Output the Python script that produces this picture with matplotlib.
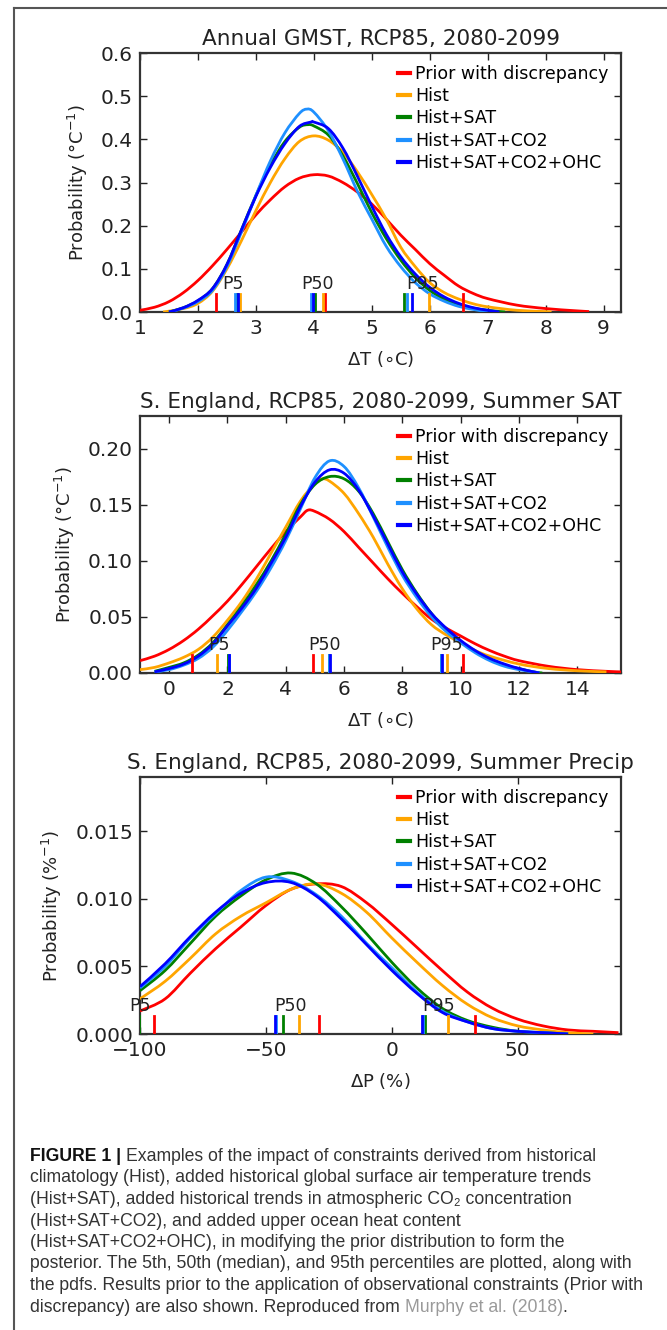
import matplotlib
matplotlib.use('Agg')
import matplotlib.pyplot as plt
from matplotlib.path import Path
from matplotlib.patches import PathPatch
from matplotlib.lines import Line2D

# ---- series names and colours (same order everywhere) ----
labels = ['Prior with discrepancy', 'Hist', 'Hist+SAT', 'Hist+SAT+CO2', 'Hist+SAT+CO2+OHC']
colors = ['#ff0000', '#ffa500', '#008000', '#1e90ff', '#0000ff']

# ---- Annual GMST pdfs ----
gmst_prior_x = [1.0, 1.25, 1.5, 1.75, 2.0, 2.25, 2.5, 2.75, 3.0, 3.25, 3.5, 3.75, 4.0, 4.25, 4.5, 4.75,
                5.0, 5.25, 5.5, 5.75, 6.0, 6.25, 6.5, 6.75, 7.0, 7.5, 8.0, 8.5, 8.75]
gmst_prior_y = [0.004, 0.011, 0.024, 0.045, 0.073, 0.107, 0.145, 0.185, 0.225, 0.26, 0.29, 0.31, 0.318,
                0.315, 0.30, 0.278, 0.25, 0.215, 0.178, 0.145, 0.112, 0.085, 0.06, 0.043, 0.031,
                0.016, 0.008, 0.003, 0.001]
gmst_hist_x = [1.4, 1.75, 2.0, 2.25, 2.5, 2.75, 3.0, 3.25, 3.5, 3.75, 4.0, 4.25, 4.5, 4.75, 5.0, 5.25,
               5.5, 5.75, 6.0, 6.25, 6.5, 6.75, 7.0, 7.5, 8.0, 8.1]
gmst_hist_y = [0.0, 0.008, 0.02, 0.048, 0.1, 0.165, 0.235, 0.3, 0.355, 0.395, 0.408, 0.398, 0.37,
               0.325, 0.272, 0.215, 0.15, 0.105, 0.068, 0.045, 0.03, 0.019, 0.012, 0.004, 0.001, 0.0]
gmst_sat_x = [1.5, 1.75, 2.0, 2.25, 2.5, 2.75, 3.0, 3.25, 3.5, 3.75, 3.9, 4.0, 4.25, 4.5, 4.75, 5.0,
              5.25, 5.5, 5.75, 6.0, 6.25, 6.5, 6.75, 7.0, 7.3]
gmst_sat_y = [0.0, 0.01, 0.026, 0.054, 0.11, 0.19, 0.27, 0.34, 0.395, 0.428, 0.434, 0.431, 0.41, 0.362,
              0.298, 0.23, 0.17, 0.12, 0.08, 0.05, 0.03, 0.017, 0.009, 0.004, 0.0]
gmst_co2_x = [1.5, 1.75, 2.0, 2.25, 2.5, 2.75, 3.0, 3.25, 3.5, 3.75, 3.88, 4.0, 4.25, 4.5, 4.75, 5.0,
              5.25, 5.5, 5.75, 6.0, 6.25, 6.5, 6.75, 7.0]
gmst_co2_y = [0.0, 0.009, 0.024, 0.05, 0.105, 0.185, 0.27, 0.35, 0.415, 0.46, 0.47, 0.463, 0.42, 0.355,
              0.28, 0.215, 0.152, 0.105, 0.068, 0.042, 0.025, 0.013, 0.006, 0.0]
gmst_ohc_x = [1.5, 1.75, 2.0, 2.25, 2.5, 2.75, 3.0, 3.25, 3.5, 3.75, 3.95, 4.0, 4.25, 4.5, 4.75, 5.0,
              5.25, 5.5, 5.75, 6.0, 6.25, 6.5, 6.75, 7.0, 7.2]
gmst_ohc_y = [0.0, 0.01, 0.027, 0.054, 0.11, 0.19, 0.268, 0.335, 0.39, 0.43, 0.44, 0.44, 0.425, 0.38,
              0.315, 0.245, 0.18, 0.128, 0.088, 0.057, 0.035, 0.02, 0.01, 0.004, 0.0]

# ---- S. England summer SAT pdfs ----
sat_prior_x = [-1.0, -0.5, 0.0, 0.5, 1.0, 1.5, 2.0, 2.5, 3.0, 3.5, 4.0, 4.5, 4.75, 5.0, 5.5, 6.0, 6.5,
               7.0, 7.5, 8.0, 8.5, 9.0, 9.5, 10.0, 10.5, 11.0, 11.5, 12.0, 13.0, 14.0, 15.0, 15.5]
sat_prior_y = [0.011, 0.015, 0.021, 0.029, 0.039, 0.051, 0.064, 0.079, 0.095, 0.111, 0.126, 0.139,
               0.145, 0.144, 0.137, 0.126, 0.112, 0.098, 0.084, 0.071, 0.059, 0.048, 0.04, 0.033,
               0.026, 0.02, 0.015, 0.011, 0.006, 0.003, 0.0015, 0.001]
sat_hist_x = [-1.0, -0.5, 0.0, 0.5, 1.0, 1.5, 2.0, 2.5, 3.0, 3.5, 4.0, 4.5, 5.0, 5.25, 5.5, 6.0, 6.5,
              7.0, 7.5, 8.0, 8.5, 9.0, 9.5, 10.0, 10.5, 11.0, 12.0, 13.0, 14.0, 15.0]
sat_hist_y = [0.003, 0.005, 0.009, 0.014, 0.021, 0.032, 0.047, 0.064, 0.084, 0.107, 0.13, 0.153, 0.169,
              0.173, 0.171, 0.16, 0.142, 0.121, 0.097, 0.075, 0.057, 0.043, 0.034, 0.027, 0.02,
              0.015, 0.008, 0.004, 0.002, 0.001]
sat_sat_x = [-0.5, 0.0, 0.5, 1.0, 1.5, 2.0, 2.5, 3.0, 3.5, 4.0, 4.5, 5.0, 5.5, 6.0, 6.5, 7.0, 7.5, 8.0,
             8.5, 9.0, 9.5, 10.0, 10.5, 11.0, 11.5, 12.0, 12.5, 12.8]
sat_sat_y = [0.0015, 0.005, 0.009, 0.016, 0.027, 0.043, 0.06, 0.079, 0.1, 0.124, 0.15, 0.168, 0.175,
             0.173, 0.162, 0.142, 0.117, 0.092, 0.071, 0.053, 0.039, 0.028, 0.019, 0.012, 0.007,
             0.004, 0.001, 0.0]
sat_co2_x = [-0.5, 0.0, 0.5, 1.0, 1.5, 2.0, 2.5, 3.0, 3.5, 4.0, 4.5, 5.0, 5.5, 6.0, 6.5, 7.0, 7.5, 8.0,
             8.5, 9.0, 9.5, 10.0, 10.5, 11.0, 11.5, 12.0, 12.5, 12.7]
sat_co2_y = [0.001, 0.003, 0.007, 0.013, 0.023, 0.038, 0.055, 0.073, 0.094, 0.118, 0.146, 0.174, 0.189,
             0.184, 0.165, 0.139, 0.112, 0.087, 0.067, 0.05, 0.037, 0.027, 0.018, 0.011, 0.006,
             0.003, 0.001, 0.0]
sat_ohc_x = [-0.5, 0.0, 0.5, 1.0, 1.5, 2.0, 2.5, 3.0, 3.5, 4.0, 4.5, 5.0, 5.5, 6.0, 6.5, 7.0, 7.5, 8.0,
             8.5, 9.0, 9.5, 10.0, 10.5, 11.0, 11.5, 12.0, 12.5, 12.7]
sat_ohc_y = [0.001, 0.004, 0.008, 0.015, 0.026, 0.042, 0.058, 0.076, 0.098, 0.121, 0.148, 0.17, 0.181,
             0.178, 0.163, 0.14, 0.115, 0.09, 0.07, 0.053, 0.04, 0.029, 0.02, 0.013, 0.008, 0.004,
             0.001, 0.0]

# ---- S. England summer precipitation pdfs ----
pr_prior_x = [-100, -90, -80, -70, -60, -50, -40, -30, -20, -10, 0, 10, 20, 30, 40, 50, 60, 70, 80, 90]
pr_prior_y = [0.0017, 0.0026, 0.0045, 0.0063, 0.0079, 0.0095, 0.0107, 0.0111, 0.0109, 0.0097, 0.0081,
              0.0064, 0.0047, 0.0031, 0.0019, 0.0011, 0.0006, 0.0003, 0.0002, 0.0001]
pr_hist_x = [-100, -90, -80, -70, -60, -50, -40, -30, -20, -10, 0, 10, 20, 30, 40, 50, 60, 70, 80]
pr_hist_y = [0.0026, 0.0039, 0.0056, 0.0074, 0.0087, 0.0097, 0.0107, 0.0111, 0.0104, 0.009, 0.0071,
             0.0053, 0.0036, 0.0022, 0.0012, 0.0006, 0.0003, 0.0001, 0.0]
pr_sat_x = [-100, -90, -80, -70, -60, -50, -40, -30, -20, -10, 0, 10, 20, 30, 40, 50, 60, 70]
pr_sat_y = [0.0032, 0.0047, 0.0067, 0.0087, 0.0102, 0.0114, 0.0119, 0.0111, 0.0094, 0.0074, 0.0053,
            0.0034, 0.0019, 0.001, 0.0005, 0.0002, 0.0001, 0.0]
pr_co2_x = [-100, -90, -80, -70, -60, -50, -40, -30, -20, -10, 0, 10, 20, 30, 40, 50, 60, 70]
pr_co2_y = [0.0034, 0.005, 0.0071, 0.0089, 0.0106, 0.0116, 0.0113, 0.0103, 0.0087, 0.0067, 0.0049,
            0.0031, 0.0017, 0.0009, 0.0004, 0.0002, 0.0001, 0.0]
pr_ohc_x = [-100, -90, -80, -70, -60, -50, -40, -30, -20, -10, 0, 10, 20, 30, 40, 50, 60, 70]
pr_ohc_y = [0.0035, 0.0052, 0.0072, 0.009, 0.0104, 0.0112, 0.0112, 0.0102, 0.0085, 0.0066, 0.0047,
            0.003, 0.0016, 0.0009, 0.0004, 0.0002, 0.0001, 0.0]

# ---- 5th / 50th / 95th percentiles, same series order ----
gmst_p5 = [2.32, 2.72, 2.67, 2.64, 2.69]
gmst_p50 = [4.19, 4.15, 4.02, 3.95, 3.99]
gmst_p95 = [6.58, 5.98, 5.56, 5.60, 5.70]
sat_p5 = [0.78, 1.65, 2.03, 2.05, 2.07]
sat_p50 = [4.95, 5.23, 5.47, 5.49, 5.52]
sat_p95 = [10.07, 9.52, 9.32, 9.33, 9.35]
pr_p5 = [-94.3, -102.0, -100.3, -101.5, -102.0]
pr_p50 = [-29.0, -36.7, -43.4, -46.0, -46.5]
pr_p95 = [33.0, 22.5, 13.2, 12.5, 12.0]


def smooth_path(x, y):
    # Catmull-Rom through the points, written as cubic bezier segments
    pts = list(zip(x, y))
    verts = [pts[0]]
    codes = [Path.MOVETO]
    n = len(pts)
    for i in range(n - 1):
        p0 = pts[i - 1] if i > 0 else pts[i]
        p1 = pts[i]
        p2 = pts[i + 1]
        p3 = pts[i + 2] if i + 2 < n else pts[i + 1]
        c1 = (p1[0] + (p2[0] - p0[0]) / 6.0, p1[1] + (p2[1] - p0[1]) / 6.0)
        c2 = (p2[0] - (p3[0] - p1[0]) / 6.0, p2[1] - (p3[1] - p1[1]) / 6.0)
        verts += [c1, c2, p2]
        codes += [Path.CURVE4, Path.CURVE4, Path.CURVE4]
    return Path(verts, codes)


def draw_panel(ax, curves, p5, p50, p95, xlim, ylim, xticks, yticks, yfmt, title, xlabel, ylabel):
    ax.set_xlim(*xlim)
    ax.set_ylim(*ylim)
    for (cx, cy), c in zip(curves, colors):
        ax.add_patch(PathPatch(smooth_path(cx, cy), facecolor='none', edgecolor=c, lw=2.0,
                               clip_on=True, zorder=3))
    # percentile markers along the bottom
    for name, vals in (('P5', p5), ('P50', p50), ('P95', p95)):
        for v, c in zip(vals, colors):
            ax.axvline(v, ymin=0, ymax=0.07, color=c, lw=2.0, zorder=4)
        ax.text(sum(vals) / len(vals), 0.072, name, transform=ax.get_xaxis_transform(),
                ha='center', va='bottom', fontsize=12.5, color='#222222', zorder=5)
    ax.set_xticks(xticks)
    ax.set_yticks(yticks)
    ax.set_yticklabels([yfmt.format(t) for t in yticks])
    ax.tick_params(direction='in', length=5, width=1.0, top=True, right=True,
                   labelsize=14.5, colors='#222222', pad=5)
    for s in ax.spines.values():
        s.set_linewidth(1.6)
        s.set_color('#333333')
    ax.set_title(title, fontsize=15.5, color='#222222', pad=6)
    ax.set_xlabel(xlabel, fontsize=13, color='#222222', labelpad=8)
    ax.set_ylabel(ylabel, fontsize=13, color='#222222', labelpad=8)
    handles = [Line2D([], [], color=c, lw=3) for c in colors]
    ax.legend(handles, labels, loc='upper right', bbox_to_anchor=(1.0, 1.0), frameon=False,
              fontsize=12.5, handlelength=0.7, handletextpad=0.3, labelspacing=0.24,
              borderaxespad=0.3)


W, H = 667, 1330
fig = plt.figure(figsize=(W / 100, H / 100), dpi=100)


def box(left, top, right, bottom):
    return [left / W, 1 - bottom / H, (right - left) / W, (bottom - top) / H]


ax1 = fig.add_axes(box(140, 53, 621, 312))
draw_panel(ax1,
           [(gmst_prior_x, gmst_prior_y), (gmst_hist_x, gmst_hist_y), (gmst_sat_x, gmst_sat_y),
            (gmst_co2_x, gmst_co2_y), (gmst_ohc_x, gmst_ohc_y)],
           gmst_p5, gmst_p50, gmst_p95, (1, 9.3), (0, 0.6), range(1, 10),
           [0.0, 0.1, 0.2, 0.3, 0.4, 0.5, 0.6], '{:.1f}',
           'Annual GMST, RCP85, 2080-2099', r'$\Delta$T ($\circ$C)', 'Probability (\u00b0C$^{-1}$)')

ax2 = fig.add_axes(box(140, 416, 621, 673))
draw_panel(ax2,
           [(sat_prior_x, sat_prior_y), (sat_hist_x, sat_hist_y), (sat_sat_x, sat_sat_y),
            (sat_co2_x, sat_co2_y), (sat_ohc_x, sat_ohc_y)],
           sat_p5, sat_p50, sat_p95, (-1, 15.5), (0, 0.229), range(0, 16, 2),
           [0.0, 0.05, 0.10, 0.15, 0.20], '{:.2f}',
           'S. England, RCP85, 2080-2099, Summer SAT', r'$\Delta$T ($\circ$C)',
           'Probability (\u00b0C$^{-1}$)')

ax3 = fig.add_axes(box(140, 777, 621, 1034))
draw_panel(ax3,
           [(pr_prior_x, pr_prior_y), (pr_hist_x, pr_hist_y), (pr_sat_x, pr_sat_y),
            (pr_co2_x, pr_co2_y), (pr_ohc_x, pr_ohc_y)],
           pr_p5, pr_p50, pr_p95, (-100, 91), (0, 0.019), [-100, -50, 0, 50],
           [0.0, 0.005, 0.010, 0.015], '{:.3f}',
           'S. England, RCP85, 2080-2099, Summer Precip', r'$\Delta$P (%)', r'Probability (%$^{-1}$)')

# page frame (left and top edges)
fig.add_artist(Line2D([14 / W, 14 / W], [0, 1 - 8 / H], color='#555555', lw=1.5))
fig.add_artist(Line2D([14 / W, 1], [1 - 8 / H, 1 - 8 / H], color='#555555', lw=1.5))

# caption
cap_font = ['Liberation Sans', 'DejaVu Sans']
cap_size = 12.7
cap_col = '#333333'
cap_lines = [
    'climatology (Hist), added historical global surface air temperature trends',
    '(Hist+SAT), added historical trends in atmospheric CO\u2082 concentration',
    '(Hist+SAT+CO2), and added upper ocean heat content',
    '(Hist+SAT+CO2+OHC), in modifying the prior distribution to form the',
    'posterior. The 5th, 50th (median), and 95th percentiles are plotted, along with',
    'the pdfs. Results prior to the application of observational constraints (Prior with',
]
x0 = 30 / W
y_first = 1161
step = 21.5


def ypos(i):
    return 1 - (y_first + i * step) / H


head = fig.text(x0, ypos(0), 'FIGURE 1 | ', family=cap_font, fontsize=cap_size, weight='bold',
                color='#111111', va='baseline')
plt.annotate('Examples of the impact of constraints derived from historical',
             xy=(1, 0), xycoords=head, family=cap_font, fontsize=cap_size, color=cap_col,
             va='bottom', annotation_clip=False)
for i, line in enumerate(cap_lines):
    fig.text(x0, ypos(i + 1), line, family=cap_font, fontsize=cap_size, color=cap_col,
             va='baseline')
last = fig.text(x0, ypos(7), 'discrepancy) are also shown. Reproduced from ', family=cap_font,
                fontsize=cap_size, color=cap_col, va='baseline')
ref = plt.annotate('Murphy et al. (2018)', xy=(1, 0), xycoords=last, family=cap_font,
                   fontsize=cap_size, color='#9a9a9a', va='bottom', annotation_clip=False)
plt.annotate('.', xy=(1, 0), xycoords=ref, family=cap_font, fontsize=cap_size, color=cap_col,
             va='bottom', annotation_clip=False)

fig.savefig('out.png', dpi=100, facecolor='white')
